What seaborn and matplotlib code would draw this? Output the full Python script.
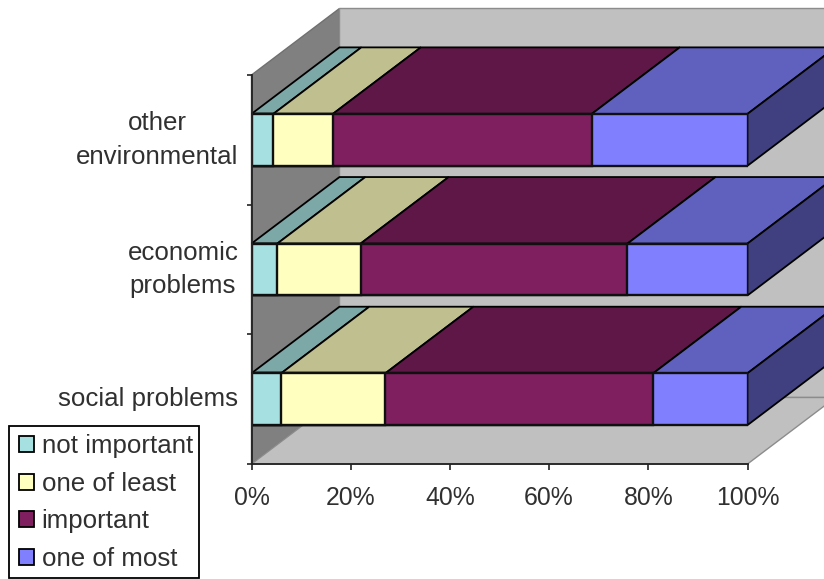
import matplotlib
matplotlib.use("Agg")
import matplotlib.pyplot as plt
from matplotlib.colors import to_rgb
from matplotlib.patches import Patch, Rectangle
import numpy as np
import pandas as pd
import seaborn as sns

categories = ["other\nenvironmental", "economic\nproblems", "social problems"]
levels = ["not important", "one of least", "important", "one of most"]
not_important = [4.4, 5.2, 6.0]
one_of_least = [12.0, 16.8, 21.0]
important = [52.2, 53.8, 54.0]
one_of_most = [31.4, 24.2, 19.0]
level_colors = ["#A6E0E0", "#FFFFC0", "#7F1F5F", "#8080FF"]
x_ticks = [0, 20, 40, 60, 80, 100]

sns.set_style("white")
plt.rcParams["font.family"] = ["Liberation Sans", "DejaVu Sans"]

W, H = 824, 579
fig = plt.figure(figsize=(W / 100, H / 100), dpi=100)
ax = fig.add_axes([251.5 / W, 1 - 464 / H, 496 / W, 389 / H])

shares = np.array([not_important, one_of_least, important, one_of_most])
totals = shares.cumsum(axis=0)
table = pd.DataFrame({
    "category": np.tile(categories, len(levels)),
    "level": np.repeat(levels, len(categories)),
    "total": totals.ravel(),
})

# Oblique projection of the depth axis, in data units
depth_x, depth_y = 17.74, 0.513
bar_width = 0.40
ymin, ymax = 2.5, -0.5


def shade(color, factor):
    return tuple(c * factor for c in to_rgb(color))


def face(points, color, edge="black", lw=1.3, z=2):
    ax.fill(*zip(*points), facecolor=color, edgecolor=edge, linewidth=lw,
            clip_on=False, zorder=z, joinstyle="miter")


# Walls and floor
face([(0, ymax), (depth_x, ymax - depth_y), (depth_x, ymin - depth_y), (0, ymin)],
     "#808080", edge="#707070", lw=1.0, z=0)
face([(depth_x, ymax - depth_y), (100 + depth_x, ymax - depth_y),
      (100 + depth_x, ymin - depth_y), (depth_x, ymin - depth_y)],
     "#C0C0C0", edge="#8c8c8c", lw=1.0, z=0)
face([(0, ymin), (100, ymin), (100 + depth_x, ymin - depth_y), (depth_x, ymin - depth_y)],
     "#C0C0C0", edge="#8c8c8c", lw=1.0, z=0.1)

# Front faces: cumulative bars overlaid from the longest to the shortest
sns.barplot(data=table, x="total", y="category", hue="level",
            order=categories, hue_order=levels[::-1],
            palette=dict(zip(levels, level_colors)), dodge=False, saturation=1,
            width=bar_width, edgecolor="#101010", linewidth=1.7,
            legend=False, ax=ax, zorder=3)

# Top and end faces of each stacked bar
for row in range(len(categories)):
    top = row - bar_width / 2
    bottom = row + bar_width / 2
    start = 0.0
    for col, color in enumerate(level_colors):
        end = totals[col, row]
        face([(start, top), (end, top), (end + depth_x, top - depth_y),
              (start + depth_x, top - depth_y)], shade(color, 0.75))
        start = end
    face([(100, top), (100 + depth_x, top - depth_y),
          (100 + depth_x, bottom - depth_y), (100, bottom)],
         shade(level_colors[-1], 0.5))

ax.set_xlim(0, 100)
ax.set_ylim(ymin, ymax)
ax.set_xlabel("")
ax.set_ylabel("")
ax.patch.set_visible(False)

ax.set_xticks(x_ticks, [f"{t}%" for t in x_ticks])
ax.set_yticks([-0.5, 0.5, 1.5, 2.5], [""] * 4)
ax.set_yticks([0, 1, 2], categories, minor=True)
ax.tick_params(axis="x", which="major", bottom=True, length=4.5, width=1.2,
               color="#222222", labelsize=17.8, labelcolor="#303030", pad=11)
ax.tick_params(axis="y", which="major", left=True, length=3.5, width=1.2, color="#222222")
ax.tick_params(axis="y", which="minor", left=False, length=0, labelsize=18.6,
               labelcolor="#303030", pad=9.5)
for label in ax.get_yticklabels(minor=True):
    label.set_multialignment("center")
    label.set_linespacing(1.52)
    label.set_verticalalignment("center")

for side in ("top", "right"):
    ax.spines[side].set_visible(False)
for side in ("left", "bottom"):
    ax.spines[side].set_color("#222222")
    ax.spines[side].set_linewidth(1.3)
    ax.spines[side].set_zorder(4)

# Legend box runs to the lower figure edge, drawn apart from the entries
fig.add_artist(Rectangle((9 / W, 1 / H), 190 / W, 152 / H, transform=fig.transFigure,
                         facecolor="white", edgecolor="black", linewidth=1.3, zorder=5))
handles = [Patch(facecolor=c, edgecolor="black", linewidth=1.3, label=l)
           for c, l in zip(level_colors, levels)]
legend = fig.legend(handles=handles, loc="lower left",
                    bbox_to_anchor=(8.5 / W, -2.5 / H), bbox_transform=fig.transFigure,
                    fontsize=18.6, frameon=False, borderpad=0.4, labelspacing=0.53,
                    handlelength=0.58, handleheight=0.58, handletextpad=0.3,
                    borderaxespad=0, labelcolor="#303030")
legend.set_zorder(6)

fig.savefig("out.png", dpi=100)
